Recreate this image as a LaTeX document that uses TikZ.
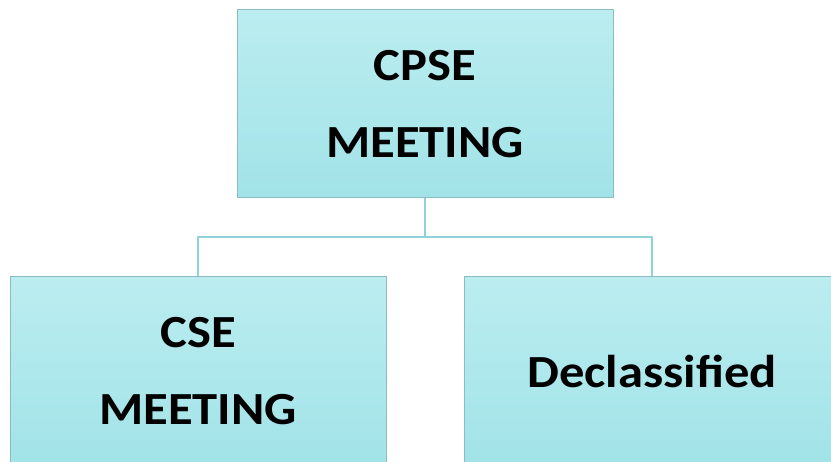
\documentclass[tikz,border=0pt]{standalone}
\usepackage{fontspec}
\setmainfont{Carlito}
\newfontfamily\boxfont{Carlito}[FakeStretch=1.1]
\definecolor{boxtop}{HTML}{BBEDF0}
\definecolor{boxbot}{HTML}{A1E3E8}
\definecolor{boxline}{HTML}{8CBCBF}
\definecolor{linkline}{HTML}{8FD2D7}
\begin{document}
\begin{tikzpicture}[x=1pt, y=-1pt, line join=round,
		meetbox/.style={draw=boxline, line width=1pt, top color=boxtop, bottom color=boxbot,
			minimum width=376pt, minimum height=188pt, inner sep=0pt, align=center,
			font=\boxfont\bfseries\fontsize{46}{77}\selectfont},
		link/.style={draw=linkline, line width=2pt}]
	\useasboundingbox (0,0) rectangle (831,462);
	\def\yfork{237}
	\node[meetbox] (cpse) at (425,104) {CPSE\\MEETING};
	\node[meetbox] (cse) at (198,371) {CSE\\MEETING};
	\node[meetbox] (declass) at (652,371) {Declassified};
	\coordinate (fork) at (cpse.south |- 0,\yfork);
	\draw[link] (cpse.south) -- (fork);
	\draw[link] (cse.north) |- (fork) -| (declass.north);
\end{tikzpicture}
\end{document}
